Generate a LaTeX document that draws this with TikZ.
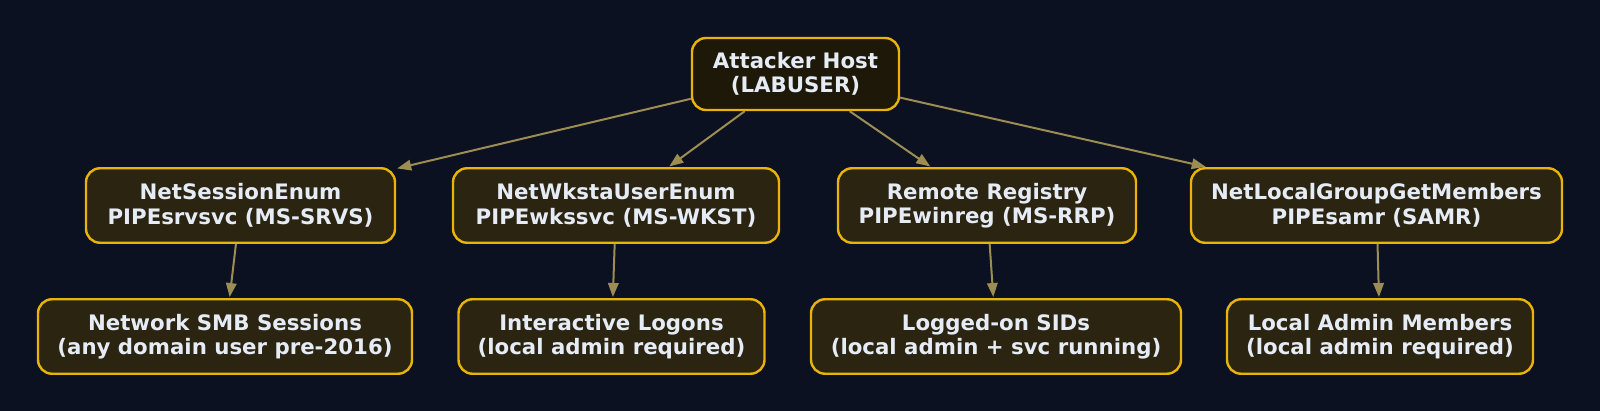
\documentclass[tikz,border=0pt]{standalone}
\usepackage{fontspec}
\setmainfont{DejaVu Sans}
\usepackage{xcolor}
\definecolor{Night}{HTML}{0B1120}
\definecolor{Amber}{HTML}{EAB308}
\definecolor{PanelTop}{HTML}{1D1808}
\definecolor{Panel}{HTML}{2A2411}
\definecolor{Ink}{HTML}{E6ECF5}
\definecolor{Olive}{HTML}{9C8D52}
\usepackage{tikz}
\usetikzlibrary{arrows.meta}

\begin{document}
\begin{tikzpicture}[
  x=1pt,y=-1pt,
  box/.style={draw=Amber,fill=Panel,line width=2.4pt,rounded corners=14pt,align=center,
    text=Ink,minimum height=74.5pt,inner sep=0pt,font=\bfseries\fontsize{21.3}{24.5}\selectfont},
  arrow/.style={-{Triangle[length=14pt,width=10.5pt]},draw=Olive,line width=2pt,shorten >=1pt}
]
  \fill[Night] (0,0) rectangle (1600,411);
  \useasboundingbox (0,0) rectangle (1600,411);

  \node[box,fill=PanelTop,minimum width=207pt,minimum height=72pt] (host) at (795.5,74) {Attacker Host\\(LABUSER)};

  \node[box,minimum width=309pt] (session) at (240.5,205.5) {NetSessionEnum\\PIPEsrvsvc (MS-SRVS)};
  \node[box,minimum width=326pt] (wksta) at (616,205.5) {NetWkstaUserEnum\\PIPEwkssvc (MS-WKST)};
  \node[box,minimum width=298pt] (winreg) at (987,205.5) {Remote Registry\\PIPEwinreg (MS-RRP)};
  \node[box,minimum width=371pt] (samr) at (1376.5,205.5) {NetLocalGroupGetMembers\\PIPEsamr (SAMR)};

  \node[box,minimum width=374pt] (smb) at (225,336.5) {Network SMB Sessions\\(any domain user pre-2016)};
  \node[box,minimum width=306pt] (logons) at (611.5,336.5) {Interactive Logons\\(local admin required)};
  \node[box,minimum width=370pt] (sids) at (996,336.5) {Logged-on SIDs\\(local admin + svc running)};
  \node[box,minimum width=306pt] (admins) at (1380,336.5) {Local Admin Members\\(local admin required)};

  \draw[arrow] (host) -- (session);
  \draw[arrow] (host) -- (wksta);
  \draw[arrow] (host) -- (winreg);
  \draw[arrow] (host) -- (samr);
  \draw[arrow] (session) -- (smb);
  \draw[arrow] (wksta) -- (logons);
  \draw[arrow] (winreg) -- (sids);
  \draw[arrow] (samr) -- (admins);
\end{tikzpicture}
\end{document}
